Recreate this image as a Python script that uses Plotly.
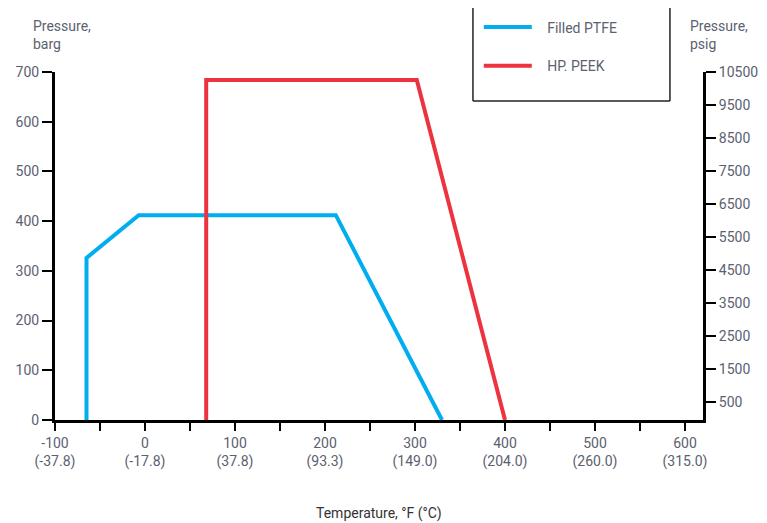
import plotly.graph_objects as go

# Data (temperature in °F, pressure in barg)
ptfe_temp = [-65, -65, -7, 212, 330]
ptfe_pres = [0, 326, 412, 412, 0]
peek_temp = [68, 68, 302, 400]
peek_pres = [0, 684, 684, 0]

x_tickvals = [-100, 0, 100, 200, 300, 400, 500, 600]
x_ticktext = ["-100<br>(-37.8)", "0<br>(-17.8)", "100<br>(37.8)", "200<br>(93.3)",
              "300<br>(149.0)", "400<br>(204.0)", "500<br>(260.0)", "600<br>(315.0)"]
y_tickvals = [0, 100, 200, 300, 400, 500, 600, 700]
y2_tickvals = [500, 1500, 2500, 3500, 4500, 5500, 6500, 7500, 8500, 9500, 10500]
y2_ticktext = [str(v) for v in y2_tickvals]

BLUE = "#00aeef"
RED = "#ee3340"
GREY = "#5b6170"
FONT = "Roboto"

fig = go.Figure()
fig.add_trace(go.Scatter(x=ptfe_temp, y=ptfe_pres, mode="lines", name="\u00a0\u00a0\u00a0Filled PTFE",
                         line=dict(color=BLUE, width=4), legend="legend"))
fig.add_trace(go.Scatter(x=peek_temp, y=peek_pres, mode="lines", name="\u00a0\u00a0\u00a0HP. PEEK",
                         line=dict(color=RED, width=4), legend="legend2"))
fig.add_trace(go.Scatter(x=[None], y=[None], yaxis="y2", showlegend=False, hoverinfo="skip"))

fig.update_layout(
    width=759, height=515,
    margin=dict(l=47, r=64, t=64, b=103, autoexpand=False),
    plot_bgcolor="white", paper_bgcolor="white",
    font=dict(family=FONT, size=14, color=GREY),
    xaxis=dict(range=[-100, 620], tickvals=x_tickvals, ticktext=x_ticktext,
               showline=True, linewidth=3, linecolor="black", showgrid=False, zeroline=False,
               ticks="outside", ticklen=8, tickwidth=1.5, tickcolor="black",
               minor=dict(dtick=50, tick0=0, ticks="outside", ticklen=8, tickwidth=1.5, tickcolor="black"),
               tickfont=dict(size=14, color=GREY, family=FONT)),
    yaxis=dict(range=[0, 700], tickvals=y_tickvals,
               showline=True, linewidth=3, linecolor="black", showgrid=False, zeroline=False,
               ticks="outside", ticklen=10, tickwidth=1.5, tickcolor="black",
               tickfont=dict(size=14, color=GREY, family=FONT)),
    yaxis2=dict(range=[-45, 10500], tickvals=y2_tickvals, ticktext=y2_ticktext,
                overlaying="y", side="right",
                showline=True, linewidth=3, linecolor="black", showgrid=False, zeroline=False,
                ticks="outside", ticklen=10, tickwidth=1.5, tickcolor="black",
                tickfont=dict(size=14, color=GREY, family=FONT)),
    legend=dict(x=0.654, y=1.174, xanchor="left", yanchor="top", bgcolor="rgba(0,0,0,0)",
                itemwidth=48, font=dict(size=14, color=GREY, family=FONT)),
    legend2=dict(x=0.654, y=1.063, xanchor="left", yanchor="top", bgcolor="rgba(0,0,0,0)",
                 itemwidth=48, font=dict(size=14, color=GREY, family=FONT)),
    showlegend=True,
)

# Legend frame (open at the top)
for x0, y0, x1, y1 in [(0.645, 1.25, 0.645, 0.917), (0.645, 0.917, 0.949, 0.917), (0.949, 0.917, 0.949, 1.25)]:
    fig.add_shape(type="line", xref="paper", yref="paper", x0=x0, y0=y0, x1=x1, y1=y1,
                  line=dict(color="#222", width=1.5))

fig.add_annotation(text="Pressure,<br>barg", xref="paper", yref="paper", x=-0.037, y=1.162,
                   xanchor="left", yanchor="top", showarrow=False, align="left",
                   font=dict(size=14, color=GREY, family=FONT))
fig.add_annotation(text="Pressure,<br>psig", xref="paper", yref="paper", x=0.977, y=1.162,
                   xanchor="left", yanchor="top", showarrow=False, align="left",
                   font=dict(size=14, color=GREY, family=FONT))
fig.add_annotation(text="Temperature, °F (°C)", xref="paper", yref="paper", x=0.5, y=-0.27,
                   xanchor="center", yanchor="middle", showarrow=False,
                   font=dict(size=14, color="#333", family=FONT))

fig.write_html("out.html")
